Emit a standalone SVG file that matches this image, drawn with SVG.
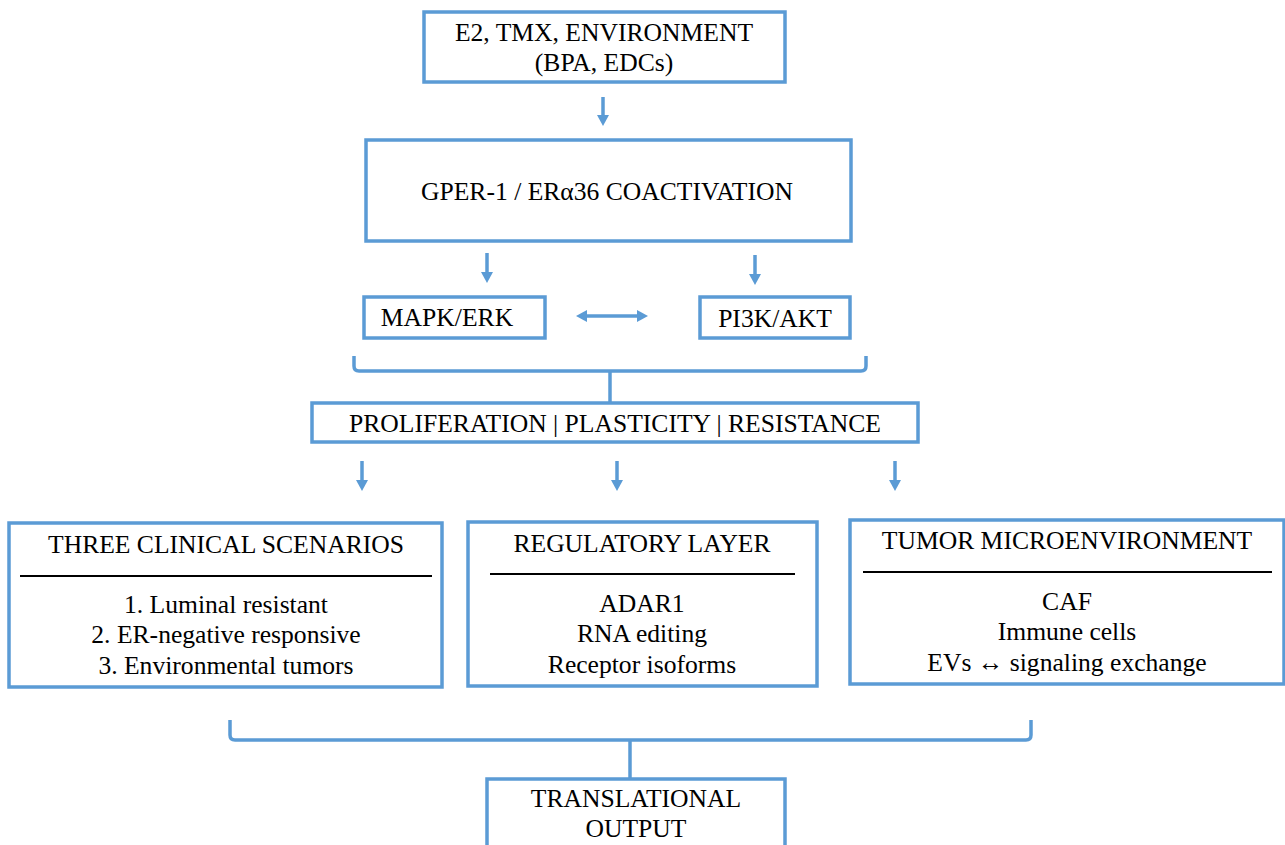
<svg xmlns="http://www.w3.org/2000/svg" width="1285" height="845" viewBox="0 0 1285 845" font-family="'Liberation Serif', 'DejaVu Serif', serif">
<defs>
<style>
.box{fill:#fff;stroke:#5B9BD5;stroke-width:3.5}
.con{fill:none;stroke:#5B9BD5;stroke-width:3.5}
.sep{stroke:#000;stroke-width:2}
.t{font-family:'Liberation Serif','DejaVu Serif',serif;font-size:25.6px;fill:#000;text-anchor:middle}
</style>
<marker id="ah" markerUnits="userSpaceOnUse" markerWidth="12" markerHeight="12" refX="2" refY="6" orient="auto-start-reverse" viewBox="0 0 11 12">
<path d="M0,0 L11,6 L0,12 z" fill="#5B9BD5"/>
</marker>
</defs>
<rect width="1285" height="845" fill="#fff"/>
<g id="connectors">
<line class="con" x1="603" y1="97" x2="603" y2="117" marker-end="url(#ah)"/>
<line class="con" x1="487" y1="253" x2="487" y2="274" marker-end="url(#ah)"/>
<line class="con" x1="755" y1="255" x2="755" y2="276" marker-end="url(#ah)"/>
<line class="con" x1="585" y1="316" x2="639" y2="316" marker-start="url(#ah)" marker-end="url(#ah)"/>
<path class="con" d="M354,356 V366 Q354,371 359,371 H861 Q866,371 866,366 V356"/>
<line class="con" x1="610" y1="371" x2="610" y2="402"/>
<line class="con" x1="362" y1="461" x2="362" y2="482" marker-end="url(#ah)"/>
<line class="con" x1="617" y1="461" x2="617" y2="482" marker-end="url(#ah)"/>
<line class="con" x1="895" y1="461" x2="895" y2="482" marker-end="url(#ah)"/>
<path class="con" d="M230,720 V735 Q230,740 235,740 H1026 Q1031,740 1031,735 V720"/>
<line class="con" x1="630" y1="740" x2="630" y2="779"/>
</g>
<g id="n-inputs">
<rect class="box" x="424" y="12" width="361" height="70"/>
<text class="t" x="604" y="41">E2, TMX, ENVIRONMENT</text>
<text class="t" x="604" y="71">(BPA, EDCs)</text>
</g>
<g id="n-gper">
<rect class="box" x="366" y="140" width="485" height="101"/>
<text class="t" x="607" y="200">GPER-1 / ERα36 COACTIVATION</text>
</g>
<g id="n-mapk">
<rect class="box" x="364" y="297" width="181" height="41"/>
<text class="t" x="447" y="326">MAPK/ERK</text>
</g>
<g id="n-pi3k">
<rect class="box" x="700" y="297" width="150" height="41"/>
<text class="t" x="775" y="327">PI3K/AKT</text>
</g>
<g id="n-outcome">
<rect class="box" x="312" y="403" width="606" height="39"/>
<text class="t" x="615" y="432">PROLIFERATION | PLASTICITY | RESISTANCE</text>
</g>
<g id="n-clinical">
<rect class="box" x="9" y="523" width="433" height="164"/>
<text class="t" x="226" y="553">THREE CLINICAL SCENARIOS</text>
<line class="sep" x1="20" y1="576" x2="432" y2="576"/>
<text class="t" x="226" y="613">1. Luminal resistant</text>
<text class="t" x="226" y="643">2. ER-negative responsive</text>
<text class="t" x="226" y="674">3. Environmental tumors</text>
</g>
<g id="n-regulatory">
<rect class="box" x="468" y="522" width="349" height="164"/>
<text class="t" x="642" y="552">REGULATORY LAYER</text>
<line class="sep" x1="490" y1="574" x2="795" y2="574"/>
<text class="t" x="642" y="612">ADAR1</text>
<text class="t" x="642" y="642">RNA editing</text>
<text class="t" x="642" y="673">Receptor isoforms</text>
</g>
<g id="n-tme">
<rect class="box" x="850" y="520" width="434" height="164"/>
<text class="t" x="1067" y="549">TUMOR MICROENVIRONMENT</text>
<line class="sep" x1="863" y1="572" x2="1272" y2="572"/>
<text class="t" x="1067" y="610">CAF</text>
<text class="t" x="1067" y="640">Immune cells</text>
<text class="t" x="1067" y="671">EVs ↔ signaling exchange</text>
</g>
<g id="n-output">
<rect class="box" x="487" y="779" width="298" height="90"/>
<text class="t" x="636" y="807">TRANSLATIONAL</text>
<text class="t" x="636" y="837">OUTPUT</text>
</g>
</svg>
